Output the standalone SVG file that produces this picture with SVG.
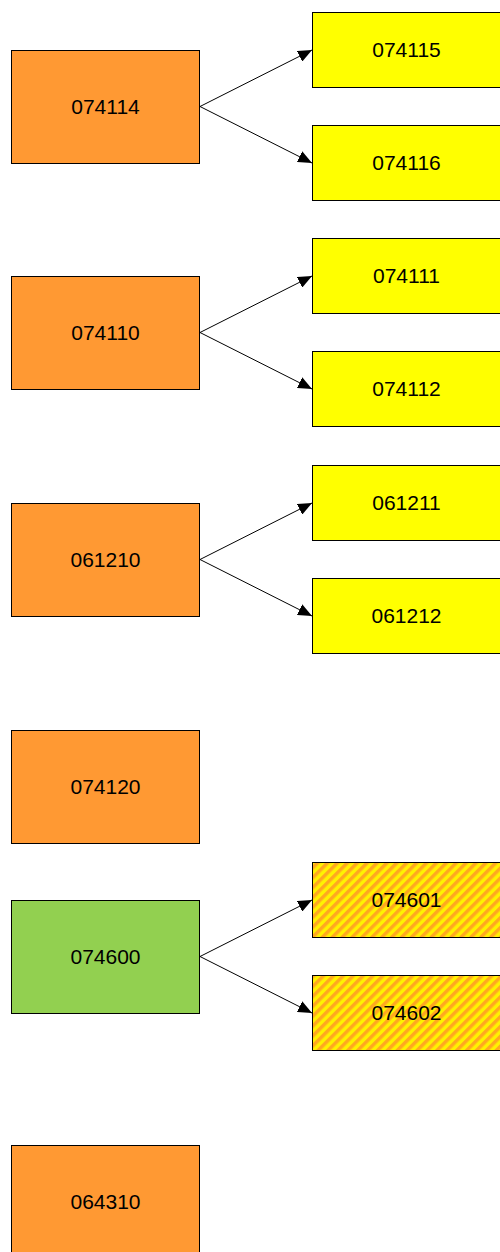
<svg xmlns="http://www.w3.org/2000/svg" width="500" height="1252" viewBox="0 0 500 1252">
<style>
.box{stroke:#000;stroke-width:1}
.o{fill:#FF9933}
.y{fill:#FFFF00}
.g{fill:#92D050}
.h{fill:url(#hatch)}
.t{font-family:"Liberation Sans",Arial,sans-serif;font-size:21px;fill:#000;text-anchor:middle}
.c{stroke:#000;stroke-width:1;fill:none;marker-end:url(#arr)}
</style>
<defs>
<pattern id="hatch" width="7" height="7" patternUnits="userSpaceOnUse" patternTransform="rotate(45)">
<rect width="7" height="7" fill="#FFF200"/>
<rect width="3.5" height="7" fill="#FFA820"/>
</pattern>
<marker id="arr" markerWidth="15" markerHeight="12" refX="14" refY="6" orient="auto" markerUnits="userSpaceOnUse">
<path d="M0,0 L14,6 L0,12 Z" fill="#000"/>
</marker>
</defs>
<rect width="500" height="1252" fill="#fff"/>
<g id="connectors">
<line class="c" x1="200" y1="106.5" x2="312" y2="50"/>
<line class="c" x1="200" y1="106.5" x2="312" y2="163"/>
<line class="c" x1="200" y1="332.5" x2="312" y2="276"/>
<line class="c" x1="200" y1="332.5" x2="312" y2="389"/>
<line class="c" x1="200" y1="559.5" x2="312" y2="503"/>
<line class="c" x1="200" y1="559.5" x2="312" y2="616"/>
<line class="c" x1="200" y1="956.5" x2="312" y2="900"/>
<line class="c" x1="200" y1="956.5" x2="312" y2="1013"/>
</g>
<g id="n074114"><rect class="box o" x="11.5" y="50.5" width="188" height="113"/><text class="t" x="105.5" y="113.5">074114</text></g>
<g id="n074115"><rect class="box y" x="312.5" y="12.5" width="188" height="75"/><text class="t" x="406.5" y="56.5">074115</text></g>
<g id="n074116"><rect class="box y" x="312.5" y="125.5" width="188" height="75"/><text class="t" x="406.5" y="169.5">074116</text></g>
<g id="n074110"><rect class="box o" x="11.5" y="276.5" width="188" height="113"/><text class="t" x="105.5" y="339.5">074110</text></g>
<g id="n074111"><rect class="box y" x="312.5" y="238.5" width="188" height="75"/><text class="t" x="406.5" y="282.5">074111</text></g>
<g id="n074112"><rect class="box y" x="312.5" y="351.5" width="188" height="75"/><text class="t" x="406.5" y="395.5">074112</text></g>
<g id="n061210"><rect class="box o" x="11.5" y="503.5" width="188" height="113"/><text class="t" x="105.5" y="566.5">061210</text></g>
<g id="n061211"><rect class="box y" x="312.5" y="465.5" width="188" height="75"/><text class="t" x="406.5" y="509.5">061211</text></g>
<g id="n061212"><rect class="box y" x="312.5" y="578.5" width="188" height="75"/><text class="t" x="406.5" y="622.5">061212</text></g>
<g id="n074120"><rect class="box o" x="11.5" y="730.5" width="188" height="113"/><text class="t" x="105.5" y="793.5">074120</text></g>
<g id="n074600"><rect class="box g" x="11.5" y="900.5" width="188" height="113"/><text class="t" x="105.5" y="963.5">074600</text></g>
<g id="n074601"><rect class="box h" x="312.5" y="862.5" width="188" height="75"/><text class="t" x="406.5" y="906.5">074601</text></g>
<g id="n074602"><rect class="box h" x="312.5" y="975.5" width="188" height="75"/><text class="t" x="406.5" y="1019.5">074602</text></g>
<g id="n064310"><rect class="box o" x="11.5" y="1145.5" width="188" height="113"/><text class="t" x="105.5" y="1208.5">064310</text></g>
</svg>
